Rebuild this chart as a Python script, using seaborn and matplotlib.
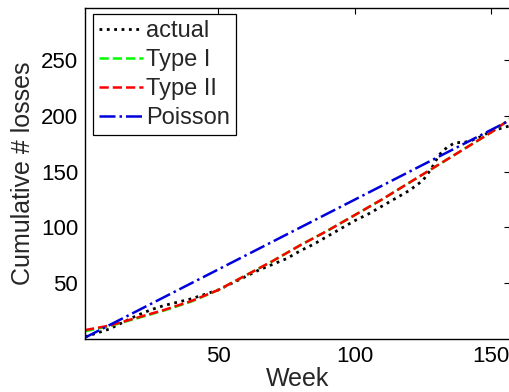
import matplotlib
matplotlib.use("Agg")
import matplotlib.pyplot as plt
import seaborn as sns
import pandas as pd

# ---- data ----
actual_weeks = [1, 5, 10, 15, 20, 25, 30, 35, 40, 45, 50, 55, 60, 65, 70, 75, 80,
                85, 90, 95, 100, 105, 110, 115, 120, 125, 128, 131, 134, 137, 140,
                143, 146, 150, 154, 157]
actual_vals = [2, 5, 9, 15, 21, 26, 30, 33, 36, 40, 44, 50, 56, 62, 67, 72, 79,
               85, 92, 99, 106, 112, 119, 126, 133, 142, 152, 165, 172, 176, 176,
               178, 181, 186, 189, 191]

model_weeks = [1, 10, 20, 30, 40, 50, 60, 70, 80, 90, 100, 110, 120, 130, 140, 150, 157]
type1_vals = [7, 11.5, 18.5, 25.5, 33.5, 44, 57, 70, 84, 97, 111, 125, 140, 155, 170, 185, 197]
type2_vals = [8, 12, 19, 26, 34, 44, 57, 70, 84, 97, 111, 125, 140, 155, 170, 185, 197]

poisson_weeks = [1, 157]
poisson_vals = [1.25, 196]

x_ticks = [50, 100, 150]
y_ticks = [50, 100, 150, 200, 250]

sns.set_style("white")
plt.rcParams['font.family'] = ['Liberation Sans', 'DejaVu Sans']

fig = plt.figure(figsize=(5.09, 3.92), dpi=100)
ax = fig.add_axes([85 / 509, 53 / 392, 425 / 509, 331.5 / 392])

df_a = pd.DataFrame({"Week": actual_weeks, "v": actual_vals})
df_1 = pd.DataFrame({"Week": model_weeks, "v": type1_vals})
df_2 = pd.DataFrame({"Week": model_weeks, "v": type2_vals})
df_p = pd.DataFrame({"Week": poisson_weeks, "v": poisson_vals})

sns.lineplot(data=df_a, x="Week", y="v", ax=ax, color="black", linestyle=":",
             linewidth=2.0, label="actual")
sns.lineplot(data=df_1, x="Week", y="v", ax=ax, color="#00ff00", linestyle="--",
             linewidth=1.8, label="Type I")
sns.lineplot(data=df_2, x="Week", y="v", ax=ax, color="#ff0000", linestyle="--",
             linewidth=1.8, label="Type II")
sns.lineplot(data=df_p, x="Week", y="v", ax=ax, color="#0000dd", linestyle="-.",
             linewidth=1.8, label="Poisson")

ax.set_xlim(1, 157)
ax.set_ylim(0, 297)
ax.set_xticks(x_ticks)
ax.set_yticks(y_ticks)
ax.tick_params(direction="in", length=4, width=0.8, top=True, right=True,
               labelsize=16, pad=5, colors="black")
for s in ax.spines.values():
    s.set_color("black")
    s.set_linewidth(1.0)

ax.set_xlabel("Week", fontsize=18, labelpad=0)
ax.set_ylabel("Cumulative # losses", fontsize=18, labelpad=4)

leg = ax.legend(loc="upper left", bbox_to_anchor=(0.018, 0.98), fontsize=17,
                frameon=True, fancybox=False, framealpha=1, edgecolor="black",
                handlelength=1.9, handletextpad=0.1, borderpad=0.25,
                labelspacing=0.3, borderaxespad=0)
leg.get_frame().set_linewidth(0.9)

fig.savefig("out.png", dpi=100)
